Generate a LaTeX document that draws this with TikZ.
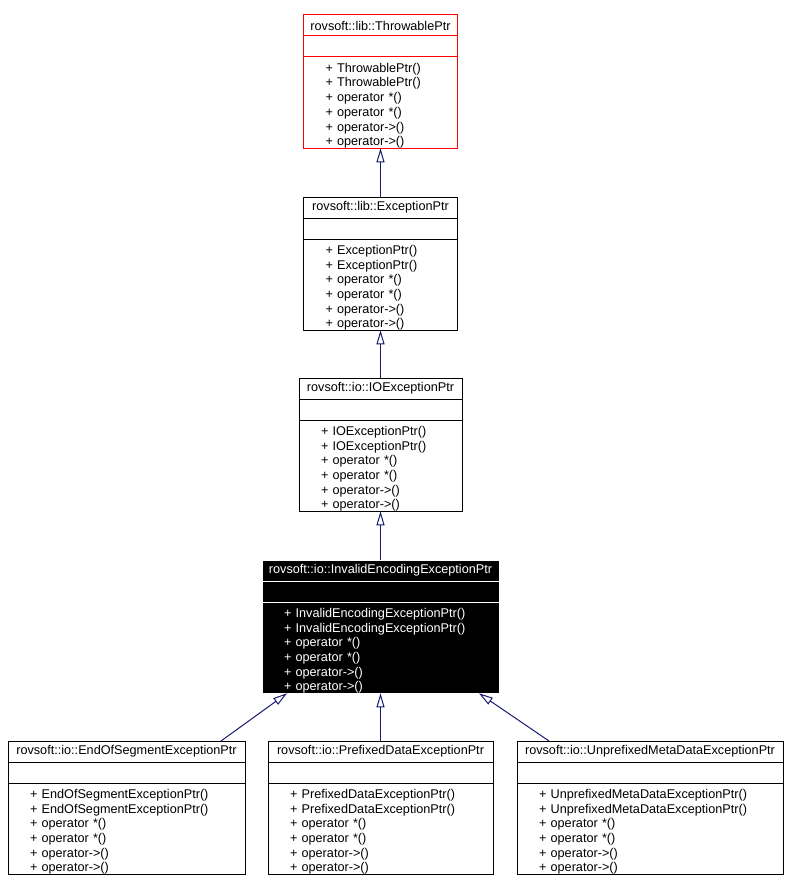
\documentclass[tikz,border=0pt]{standalone}
\usepackage{fontspec}
\setmainfont{Liberation Sans}
\usetikzlibrary{positioning,arrows.meta}

\definecolor{edgeblue}{RGB}{25,25,112}
\tikzset{every picture/.style={line width=0.75pt}}
\tikzset{
	clshead/.style={draw, minimum width=#1, minimum height=15.75pt, inner sep=0pt, outer sep=0pt, font=\fontsize{9.5}{11}\selectfont},
	clsempty/.style={draw, minimum width=#1, minimum height=15.75pt, inner sep=0pt, outer sep=0pt},
	clsbody/.style={draw, text width=#1, minimum height=68.25pt, inner xsep=16.5pt, inner ysep=0pt, outer sep=0pt, align=left, font=\fontsize{9.5}{11}\selectfont, execute at begin node={\rule{0pt}{11.5pt}}},
	clscurrent/.style={fill=black, draw=white, text=white},
	inherit/.style={draw=edgeblue, -{Triangle[open, length=10.5pt, width=6pt]}}
}
\newcommand{\opmethods}{+~operator *()\\+~operator *()\\+~operator->()\\+~operator->()}

\begin{document}
\begin{tikzpicture}[x=0.75pt,y=0.75pt,yscale=-1,xscale=1]
	\useasboundingbox (0,0) rectangle (788,892);

	%Class: ThrowablePtr
	\node[clshead=115.5pt, draw=red, anchor=north] (throwHead) at (380.5,15) {rovsoft::lib::ThrowablePtr};
	\node[clsempty=115.5pt, draw=red, below=0pt of throwHead] (throwAttr) {};
	\node[clsbody=82.5pt, draw=red, below=0pt of throwAttr] (throwOps) {+~ThrowablePtr()\\+~ThrowablePtr()\\\opmethods};

	%Class: ExceptionPtr
	\node[clshead=115.5pt, anchor=north] (excHead) at (380.5,197) {rovsoft::lib::ExceptionPtr};
	\node[clsempty=115.5pt, below=0pt of excHead] (excAttr) {};
	\node[clsbody=82.5pt, below=0pt of excAttr] (excOps) {+~ExceptionPtr()\\+~ExceptionPtr()\\\opmethods};

	%Class: IOExceptionPtr
	\node[clshead=122.25pt, anchor=north] (ioHead) at (380.5,378) {rovsoft::io::IOExceptionPtr};
	\node[clsempty=122.25pt, below=0pt of ioHead] (ioAttr) {};
	\node[clsbody=89.25pt, below=0pt of ioAttr] (ioOps) {+~IOExceptionPtr()\\+~IOExceptionPtr()\\\opmethods};

	%Class: InvalidEncodingExceptionPtr (current)
	\node[clshead=177.75pt, clscurrent, anchor=north] (invHead) at (380.5,560) {rovsoft::io::InvalidEncodingExceptionPtr};
	\node[clsempty=177.75pt, clscurrent, below=0pt of invHead] (invAttr) {};
	\node[clsbody=144.75pt, clscurrent, below=0pt of invAttr] (invOps) {+~InvalidEncodingExceptionPtr()\\+~InvalidEncodingExceptionPtr()\\\opmethods};

	%Class: EndOfSegmentExceptionPtr
	\node[clshead=177.75pt, anchor=north] (endHead) at (126.5,741) {rovsoft::io::EndOfSegmentExceptionPtr};
	\node[clsempty=177.75pt, below=0pt of endHead] (endAttr) {};
	\node[clsbody=144.75pt, below=0pt of endAttr] (endOps) {+~EndOfSegmentExceptionPtr()\\+~EndOfSegmentExceptionPtr()\\\opmethods};

	%Class: PrefixedDataExceptionPtr
	\node[clshead=168.75pt, anchor=north] (prefHead) at (380.5,741) {rovsoft::io::PrefixedDataExceptionPtr};
	\node[clsempty=168.75pt, below=0pt of prefHead] (prefAttr) {};
	\node[clsbody=135.75pt, below=0pt of prefAttr] (prefOps) {+~PrefixedDataExceptionPtr()\\+~PrefixedDataExceptionPtr()\\\opmethods};

	%Class: UnprefixedMetaDataExceptionPtr
	\node[clshead=199.5pt, anchor=north] (unprHead) at (650,741) {rovsoft::io::UnprefixedMetaDataExceptionPtr};
	\node[clsempty=199.5pt, below=0pt of unprHead] (unprAttr) {};
	\node[clsbody=166.5pt, below=0pt of unprAttr] (unprOps) {+~UnprefixedMetaDataExceptionPtr()\\+~UnprefixedMetaDataExceptionPtr()\\\opmethods};

	%Inheritance
	\draw[inherit] (excHead.north) -- (throwOps.south);
	\draw[inherit] (ioHead.north) -- (excOps.south);
	\draw[inherit] (invHead.north) -- (ioOps.south);
	\draw[inherit] ([xshift=-18pt]endHead.north east) -- ([xshift=18.75pt]invOps.south west);
	\draw[inherit] (prefHead.north) -- (invOps.south);
	\draw[inherit] ([xshift=24pt]unprHead.north west) -- ([xshift=-15pt]invOps.south east);

\end{tikzpicture}
\end{document}
